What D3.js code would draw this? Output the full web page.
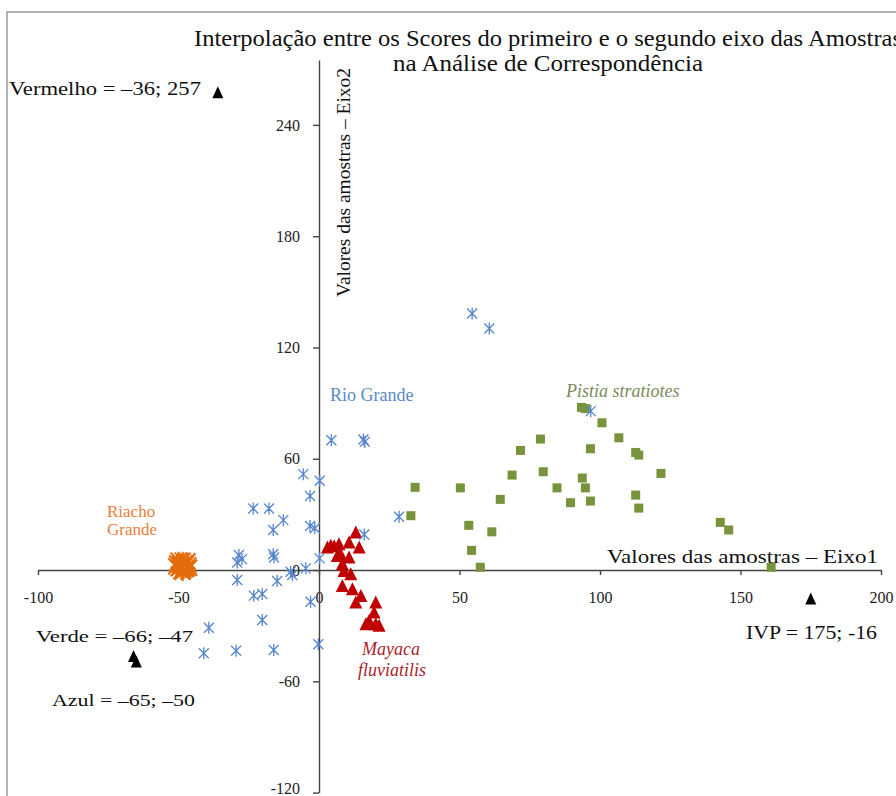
<!DOCTYPE html>
<html>
<head>
<meta charset="utf-8">
<script src="https://cdn.jsdelivr.net/npm/d3@7"></script>
<style>
  html, body { margin: 0; padding: 0; background: #fff; }
  svg text { font-family: "Liberation Serif", "Times New Roman", serif; }
</style>
</head>
<body>
<svg id="chart" width="896" height="796"></svg>
<script>
// ---------- DATA ----------
const xTicks = [-100, -50, 0, 50, 100, 150, 200];
const yTicks = [-120, -60, 0, 60, 120, 180, 240];

// Rio Grande (blue asterisks)
const rioGrande = [
  [54.5,138.3],[60.6,130.2],[96.7,85.7],[4.4,70.0],[16.3,69.1],[15.8,70.4],
  [-5.6,51.7],[0.25,48.1],[-3.2,39.9],[-23.4,33.2],[-17.8,33.2],[-12.7,26.9],
  [-16.3,21.6],[-3.2,23.7],[-1.5,22.5],[-16.3,8.5],[-16.0,6.8],[-28.5,8.1],
  [-29.1,4.1],[-27.4,5.9],[0.2,6.3],[-29.1,-5.4],[-14.9,-5.9],[-10.1,-0.9],
  [-9.5,-2.7],[-4.7,0.9],[-23.2,-13.8],[-20.2,-12.9],[-3.0,-17.1],[-20.2,-26.9],
  [-39.2,-31.1],[-41.0,-44.9],[-29.5,-43.5],[-16.1,-43.1],[-0.25,-40.0],
  [16.1,19.2],[28.5,28.7]
];

// Riacho Grande (orange asterisks)
const riachoGrande = [
  [-49.5,3],[-48,2],[-47,4],[-50,1],[-48.5,5],[-47.5,0.5],[-49,-0.5],[-46.5,2.5],
  [-50.5,3.5],[-48,3.5],[-49.5,1.5],[-47,1],[-48.5,-1],[-50,5],[-46.8,4.8],
  [-49,2.5],[-48.2,0],[-47.6,3],[-50.8,2],[-46.2,1.2]
];

// Pistia stratiotes (green squares)
const pistia = [
  [93.4,87.7],[94.8,87.1],[100.7,79.4],[106.7,71.3],[78.8,70.6],[96.6,65.4],
  [71.7,64.5],[112.7,63.4],[113.8,62.0],[121.7,52.1],[79.8,53.0],[68.7,51.2],
  [50.3,44.3],[84.7,44.3],[93.7,49.6],[94.8,44.3],[64.5,38.1],[89.5,36.3],
  [96.6,37.2],[112.7,40.4],[113.8,33.4],[53.3,24.1],[61.5,20.6],[142.8,25.7],
  [145.8,21.6],[54.3,10.6],[57.4,1.5],[160.9,1.5],[34.2,44.6],[32.7,29.3]
];

// Mayaca fluviatilis (red triangles)
const mayaca = [
  [13.1,19.8],[14.3,11.7],[10.7,14.4],[7.1,13.5],[4.2,12.6],[3.0,11.7],
  [7.7,8.1],[10.7,6.3],[8.3,2.7],[8.9,-0.9],[11.3,-2.7],[8.3,-9.0],
  [11.9,-10.8],[14.9,-14.4],[13.1,-17.9],[20.2,-17.9],[19.6,-23.3],[16.7,-29.6],
  [20.2,-29.6],[21.4,-30.5],[17.8,-27.9],[6.5,7.2],[5.4,12.4]
];

// Reference points (black triangles)
const refNames = ["Vermelho", "Verde", "Azul", "IVP"];
const refPoints = [[-36,257],[-66,-47],[-65,-50],[175,-16]];

// ---------- CHART ----------
const svg = d3.select("#chart");
const x = d3.scaleLinear().domain([-100, 200]).range([38, 881]);
const y = d3.scaleLinear().domain([-120, 275]).range([792.6, 60]);

// frame
svg.append("path").attr("d", "M7,796 L7,12 L896,12")
  .attr("fill", "none").attr("stroke", "#999").attr("stroke-width", 1.5);

// Title
svg.append("text").attr("x", 548).attr("y", 46).attr("text-anchor", "middle")
  .attr("font-size", 24).attr("textLength", 708).attr("lengthAdjust", "spacingAndGlyphs")
  .attr("fill", "#111")
  .text("Interpolação entre os Scores do primeiro e o segundo eixo das Amostras");
svg.append("text").attr("x", 548).attr("y", 71).attr("text-anchor", "middle")
  .attr("font-size", 24).attr("textLength", 310).attr("lengthAdjust", "spacingAndGlyphs")
  .attr("fill", "#111")
  .text("na Análise de Correspondência");

// Axes
const fmt = d => String(d);
const xAxis = svg.append("g").attr("transform", `translate(0,${y(0)})`)
  .call(d3.axisBottom(x).tickValues(xTicks).tickSize(5).tickSizeOuter(0).tickPadding(17)
    .tickFormat(fmt));
const yAxis = svg.append("g").attr("transform", `translate(${x(0)},0)`)
  .call(d3.axisLeft(y).tickValues(yTicks).tickSize(6).tickSizeOuter(0).tickPadding(13)
    .tickFormat(fmt));
[xAxis, yAxis].forEach(a => {
  a.select(".domain").attr("stroke", "#444").attr("stroke-width", 1.4);
  a.selectAll(".tick line").attr("stroke", "#444").attr("stroke-width", 1.4);
  a.selectAll(".tick text").attr("font-size", 16).attr("fill", "#222")
    .attr("font-family", "Liberation Serif, serif");
});
// keep the bottom-most y label inside the picture
yAxis.selectAll(".tick text").filter(d => d === -120).attr("dy", "0.05em");

// Axis titles
svg.append("text").attr("x", 607).attr("y", 563).attr("font-size", 19)
  .attr("textLength", 271).attr("lengthAdjust", "spacingAndGlyphs").attr("fill", "#111")
  .text("Valores das amostras – Eixo1");
svg.append("text").attr("transform", "translate(350,297) rotate(-90)")
  .attr("font-size", 18).attr("textLength", 229).attr("lengthAdjust", "spacingAndGlyphs")
  .attr("fill", "#111")
  .text("Valores das amostras – Eixo2");

// Marker generators
const star = (s, d) => `M0,${-s}L0,${s}M${-d},${-d}L${d},${d}M${-d},${d}L${d},${-d}`;
const tri = (w, h) => `M0,${-h*0.6}L${w/2},${h*0.4}L${-w/2},${h*0.4}Z`;

// Green squares
svg.append("g").selectAll("rect").data(pistia).join("rect")
  .attr("x", d => x(d[0]) - 4.5).attr("y", d => y(d[1]) - 4.5)
  .attr("width", 9).attr("height", 9).attr("fill", "#77933c");

// Red triangles
svg.append("g").selectAll("path").data(mayaca).join("path")
  .attr("transform", d => `translate(${x(d[0])},${y(d[1])})`)
  .attr("d", tri(13, 13)).attr("fill", "#c00000");

// Orange asterisks
svg.append("g").selectAll("path").data(riachoGrande).join("path")
  .attr("transform", d => `translate(${x(d[0])},${y(d[1])})`)
  .attr("d", star(9, 8)).attr("stroke", "#e46c0a").attr("stroke-width", 2).attr("fill", "none");

// Blue asterisks
svg.append("g").selectAll("path").data(rioGrande).join("path")
  .attr("transform", d => `translate(${x(d[0])},${y(d[1])})`)
  .attr("d", star(6, 5)).attr("stroke", "#5585cc").attr("stroke-width", 1.3).attr("fill", "none");

// Black triangles
svg.append("g").selectAll("path").data(refPoints).join("path")
  .attr("transform", d => `translate(${x(d[0])},${y(d[1])})`)
  .attr("d", tri(11, 12)).attr("fill", "#000");

// Reference labels
svg.append("text").attr("x", 9).attr("y", 95).attr("font-size", 18)
  .attr("textLength", 192).attr("lengthAdjust", "spacingAndGlyphs").attr("fill", "#111")
  .text(`${refNames[0]} = –36; 257`);
svg.append("text").attr("x", 36).attr("y", 642).attr("font-size", 16)
  .attr("font-family", "DejaVu Serif, serif").attr("textLength", 157)
  .attr("lengthAdjust", "spacingAndGlyphs").attr("fill", "#111")
  .text(`${refNames[1]} = –66; –47`);
svg.append("text").attr("x", 52).attr("y", 706).attr("font-size", 16)
  .attr("font-family", "DejaVu Serif, serif").attr("textLength", 143)
  .attr("lengthAdjust", "spacingAndGlyphs").attr("fill", "#111")
  .text(`${refNames[2]} = –65; –50`);
svg.append("text").attr("x", 746).attr("y", 639).attr("font-size", 18)
  .attr("textLength", 131).attr("lengthAdjust", "spacingAndGlyphs").attr("fill", "#111")
  .text(`${refNames[3]}  = 175; -16`);

// Group labels
const rg = svg.append("text").attr("font-size", 17).attr("fill", "#e8803a");
rg.append("tspan").attr("x", 107).attr("y", 517).text("Riacho");
rg.append("tspan").attr("x", 107).attr("y", 535).text("Grande");
svg.append("text").attr("x", 330).attr("y", 401).attr("font-size", 18).attr("fill", "#5a8ac6")
  .text("Rio Grande");
svg.append("text").attr("x", 566).attr("y", 397).attr("font-size", 18).attr("font-style", "italic")
  .attr("fill", "#7a8a5a").text("Pistia stratiotes");
const my = svg.append("text").attr("font-size", 18).attr("font-style", "italic").attr("fill", "#a8242c");
my.append("tspan").attr("x", 362).attr("y", 655).text("Mayaca");
my.append("tspan").attr("x", 358).attr("y", 676).text("fluviatilis");
</script>
</body>
</html>
